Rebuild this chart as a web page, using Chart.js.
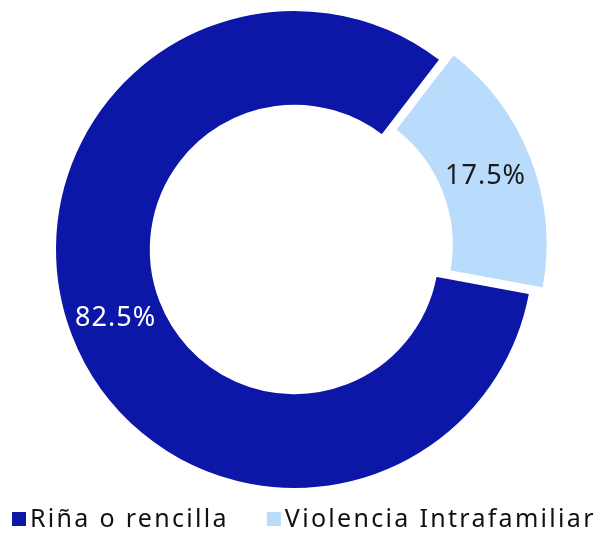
<!DOCTYPE html>
<html>
<head>
<meta charset="utf-8">
<script src="https://cdn.jsdelivr.net/npm/chart.js@4/dist/chart.umd.min.js"></script>
<style>
  html, body { margin: 0; padding: 0; background: #fff; }
  #wrap { width: 603px; height: 533px; position: relative; }
</style>
</head>
<body>
<div id="wrap"><canvas id="Chart"></canvas></div>
<script>
// Data for the doughnut
var categories = ['Riña o rencilla', 'Violencia Intrafamiliar'];
var values = [82.5, 17.5];
var valueLabels = ['82.5%', '17.5%'];
var colors = ['#0c17a8', '#b9dbfc'];
var labelColors = ['#ffffff', '#1a1a1a'];
var offsets = [0, 52]; // chart.js draws offset / 4

var FONT = '"Noto Sans", sans-serif';

// Percent labels in the middle of each ring segment
var sliceLabels = {
    id: 'sliceLabels',
    afterDatasetsDraw: function (chart) {
        var ctx = chart.ctx;
        var arcs = chart.getDatasetMeta(0).data;
        ctx.save();
        ctx.font = '27px ' + FONT;
        ctx.letterSpacing = '1px';
        ctx.textAlign = 'center';
        ctx.textBaseline = 'middle';
        arcs.forEach(function (arc, i) {
            var half = (arc.startAngle + arc.endAngle) / 2;
            var r = (arc.innerRadius + arc.outerRadius) / 2 + offsets[i] / 4;
            ctx.fillStyle = labelColors[i];
            ctx.fillText(valueLabels[i], arc.x + Math.cos(half) * r, arc.y + Math.sin(half) * r);
        });
        ctx.restore();
    }
};

// Legend along the bottom (small gap between box and text)
var bottomLegend = {
    id: 'bottomLegend',
    afterDraw: function (chart) {
        var ctx = chart.ctx;
        var x = 12;
        var y = 519;
        ctx.save();
        ctx.font = '25px ' + FONT;
        ctx.letterSpacing = '2.3px';
        ctx.textBaseline = 'middle';
        categories.forEach(function (name, i) {
            ctx.fillStyle = colors[i];
            ctx.fillRect(x, y - 7, 14, 14);
            ctx.fillStyle = '#111111';
            ctx.fillText(name, x + 18, y + 1);
            x += 18 + ctx.measureText(name).width + 38;
        });
        ctx.restore();
    }
};

var config = {
    type: 'doughnut',
    data: {
        labels: categories,
        datasets: [{
            data: values,
            backgroundColor: colors,
            borderColor: '#ffffff',
            borderWidth: 2,
            offset: offsets
        }]
    },
    options: {
        responsive: true,
        maintainAspectRatio: false,
        animation: false,
        rotation: 100.5,
        radius: 239.5,
        cutout: '60%',
        layout: { padding: { top: 8, bottom: 42, left: 0, right: 14 } },
        plugins: {
            legend: { display: false },
            tooltip: { enabled: false }
        }
    },
    plugins: [sliceLabels, bottomLegend]
};

var ctx = document.getElementById('Chart').getContext('2d');
var myChart = new Chart(ctx, config);
</script>
</body>
</html>
